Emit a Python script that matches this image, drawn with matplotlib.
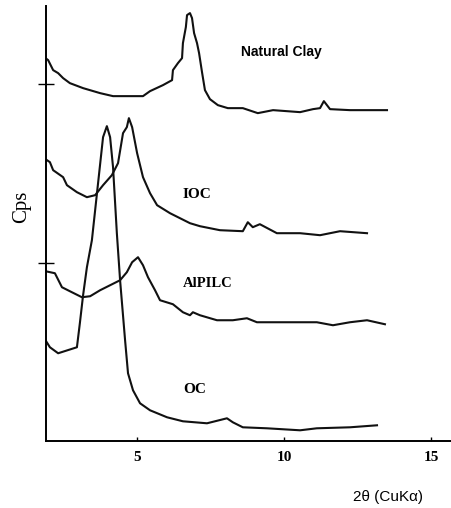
import numpy as np
import matplotlib
matplotlib.use("Agg")
import matplotlib.pyplot as plt

# XRD patterns, 2theta (deg) vs intensity (arbitrary cps, stacked)
clay_x = [1.87, 1.96, 2.13, 2.30, 2.47, 2.70, 3.15, 3.73, 4.17, 5.19, 5.43, 5.87, 6.18, 6.21,
          6.38, 6.52, 6.55, 6.65, 6.69, 6.79, 6.86, 6.93, 7.03, 7.10, 7.20, 7.30, 7.47, 7.74,
          8.08, 8.59, 9.10, 9.62, 10.54, 10.98, 11.22, 11.35, 11.56, 12.24, 13.50]
clay_y = [383, 381, 371, 368, 363, 358, 353, 348, 345, 345, 350, 356, 361, 371,
          378, 383, 398, 414, 426, 428, 423, 408, 398, 388, 369, 351, 342, 336,
          333, 333, 328, 331, 329, 332, 333, 340, 332, 331, 331]

ioc_x = [1.87, 2.02, 2.13, 2.47, 2.60, 2.94, 3.28, 3.56, 3.83, 4.13, 4.34, 4.51, 4.64, 4.71,
         4.82, 4.99, 5.19, 5.43, 5.67, 6.11, 6.79, 7.13, 7.81, 8.59, 8.76, 8.93, 9.17, 9.75,
         10.54, 11.22, 11.90, 12.82]
ioc_y = [282, 279, 271, 264, 256, 249, 244, 246, 256, 266, 278, 308, 314, 323,
         314, 288, 264, 248, 236, 228, 218, 215, 211, 210, 219, 214, 217, 208,
         208, 206, 210, 208]

alpilc_x = [1.87, 2.19, 2.43, 2.70, 3.11, 3.39, 3.73, 4.41, 4.64, 4.82, 5.02, 5.19, 5.36, 5.60,
            5.77, 6.21, 6.55, 6.79, 6.89, 7.13, 7.71, 8.25, 8.73, 9.07, 9.96, 11.11, 11.66,
            12.24, 12.82, 13.43]
alpilc_y = [170, 168, 154, 150, 144, 145, 151, 161, 169, 179, 184, 176, 164, 151,
            141, 137, 129, 126, 129, 126, 121, 121, 123, 119, 119, 119, 116,
            119, 121, 117]

oc_x = [1.87, 2.02, 2.30, 2.94, 3.04, 3.15, 3.28, 3.45, 3.66, 3.83, 3.96, 4.07, 4.17, 4.30,
        4.41, 4.58, 4.68, 4.85, 5.09, 5.43, 6.01, 6.55, 7.37, 8.05, 8.25, 8.59, 9.41, 10.54,
        11.11, 12.24, 13.16]
oc_y = [101, 94, 88, 94, 118, 146, 174, 201, 258, 304, 315, 304, 274, 208,
        161, 101, 68, 51, 38, 31, 24, 20, 18, 23, 19, 14, 13, 11,
        13, 14, 16]

xticks = [5, 10, 15]
yticks = [178, 357]

plt.rcParams['font.family'] = ['Liberation Serif', 'DejaVu Serif']

fig = plt.figure(figsize=(4.51, 5.08), dpi=100)
ax = fig.add_axes([0.1009, 0.1313, 0.8991, 0.8567])

for xs, ys in [(clay_x, clay_y), (ioc_x, ioc_y), (alpilc_x, alpilc_y), (oc_x, oc_y)]:
    ax.plot(xs, ys, color="#111111", lw=1.5)

ax.set_xlim(1.87, 15.68)
ax.set_ylim(0, 435)

ax.spines["top"].set_visible(False)
ax.spines["right"].set_visible(False)
ax.spines["left"].set_linewidth(1.4)
ax.spines["bottom"].set_linewidth(1.4)

ax.set_xticks(xticks)
ax.set_xticklabels([str(t) for t in xticks], fontweight="bold", fontsize=11)
ax.tick_params(axis="x", direction="in", length=3, width=1, pad=7)
ax.set_yticks(yticks)
ax.set_yticklabels([])
ax.tick_params(axis="y", direction="inout", length=12, width=1)

ax.text(9.92, 389, "Natural Clay", ha="center", va="center", fontsize=10,
        fontweight="bold", family="Liberation Sans")
ax.text(6.55, 247, "IOC", ha="left", va="center", fontsize=11, fontweight="bold")
ax.text(6.55, 158, "AlPILC", ha="left", va="center", fontsize=10.5, fontweight="bold")
ax.text(6.55, 52, "OC", ha="left", va="center", fontsize=11, fontweight="bold")

fig.text(0.049, 0.593, "Cps", rotation=90, ha="center", va="center", fontsize=15)
fig.text(0.860, 0.022, "2θ (CuKα)", ha="center", va="center", fontsize=11,
         family="Liberation Sans")

fig.savefig("out.png", dpi=100)
